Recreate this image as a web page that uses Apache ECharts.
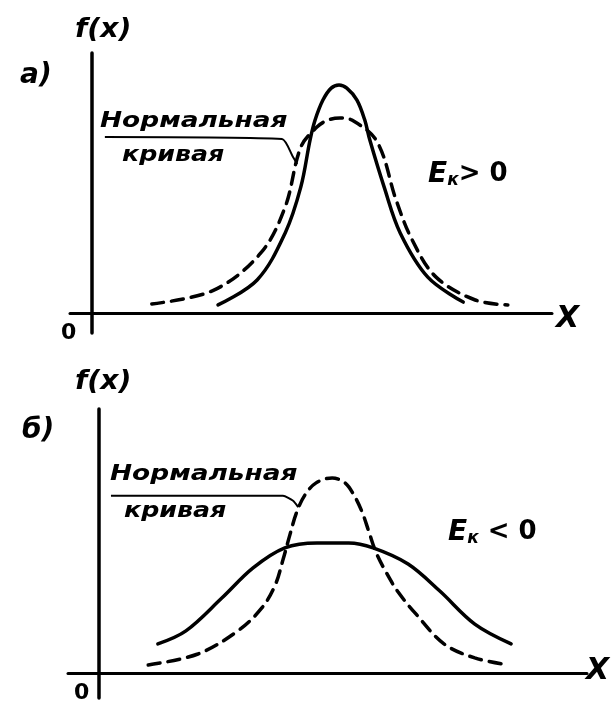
<!DOCTYPE html>
<html>
<head>
<meta charset="utf-8">
<script src="https://cdn.jsdelivr.net/npm/echarts@6/dist/echarts.min.js"></script>
<style>
html, body { margin: 0; padding: 0; background: #fff; }
#chart { width: 614px; height: 702px; }
</style>
</head>
<body>
<div id="chart"></div>
<script>
// curve points [x, f(x)] in chart units
var topPeaked = [[27.4, 3.1], [35.9, 12.7], [42.0, 30.8], [45.4, 48.5], [47.4, 66.5], [48.5, 74.2], [50.2, 81.9],
	[52.0, 86.5], [53.7, 87.7], [55.4, 86.5], [57.6, 81.9], [59.3, 74.2], [60.4, 66.5], [63.5, 48.5],
	[67.0, 30.8], [73.0, 13.8], [80.7, 4.2]];
var topNormal = [[13.0, 3.5], [26.5, 8.8], [36.7, 23.1], [42.0, 40.8], [45.4, 63.8], [48.9, 71.5], [51.3, 74.2],
	[53.9, 75.0], [56.5, 74.2], [62.0, 65.8], [66.1, 43.5], [69.6, 28.1], [74.8, 13.8], [83.3, 5.0], [90.4, 3.1]];
var bottomFlat = [[12.8, 11.2], [18.9, 16.2], [26.7, 28.8], [33.5, 40.4], [40.4, 48.1], [47.4, 50.0], [54.3, 50.0],
	[59.6, 48.1], [67.2, 41.9], [74.1, 31.5], [81.7, 18.8], [89.6, 11.2]];
var bottomNormal = [[10.7, 3.1], [21.5, 7.3], [30.2, 16.2], [35.4, 25.0], [38.3, 33.8], [40.0, 43.5], [41.5, 53.1],
	[43.0, 61.9], [44.8, 68.5], [47.2, 73.1], [50.7, 75.0], [53.5, 73.1], [55.4, 68.5], [57.2, 61.9], [58.7, 54.2],
	[60.2, 46.5], [62.4, 38.8], [65.0, 31.2], [68.9, 22.7], [75.0, 11.2], [81.7, 5.8], [88.9, 3.1]];
// leader lines from the label "Нормальная кривая" to the dashed curve
var topLeader = [[2.8, 67.7], [41.3, 66.9], [43.7, 60.0], [44.6, 57.3]];
var bottomLeader = [[2.6, 68.1], [40.0, 68.1], [42.2, 66.2], [43.3, 63.8]];

var ink = '#000';
var font = '"DejaVu Sans", sans-serif';

function axisX(gridIndex, min, max) {
	return {
		type : 'value',
		gridIndex : gridIndex,
		min : min,
		max : max,
		axisLine : { onZero : true, lineStyle : { color : ink, width : 3 } },
		axisTick : { show : false },
		axisLabel : { show : false },
		splitLine : { show : false }
	};
}
function axisY(gridIndex, min, max) {
	return {
		type : 'value',
		gridIndex : gridIndex,
		min : min,
		max : max,
		axisLine : { show : true, onZero : true, lineStyle : { color : ink, width : 3.5 } },
		axisTick : { show : false },
		axisLabel : { show : false },
		splitLine : { show : false }
	};
}
function curve(idx, data, dashed) {
	return {
		type : 'line',
		xAxisIndex : idx,
		yAxisIndex : idx,
		data : data,
		smooth : 0.35,
		showSymbol : false,
		symbol : 'none',
		silent : true,
		lineStyle : {
			color : ink,
			width : 3.5,
			cap : 'round',
			type : dashed ? [12, 8] : 'solid'
		}
	};
}
function leader(idx, data) {
	return {
		type : 'line',
		xAxisIndex : idx,
		yAxisIndex : idx,
		data : data,
		smooth : 0.2,
		symbol : 'none',
		silent : true,
		lineStyle : { color : ink, width : 2 }
	};
}
function label(x, y, text, size, sx) {
	return {
		type : 'text',
		x : x,
		y : y,
		scaleX : sx || 1,
		style : {
			text : text,
			fill : ink,
			font : 'italic bold ' + size + 'px ' + font
		}
	};
}
function plain(x, y, text, size) {
	return {
		type : 'text',
		x : x,
		y : y,
		style : { text : text, fill : ink, font : 'bold ' + size + 'px ' + font }
	};
}
function kurtosis(x, y, tail) {
	return {
		type : 'text',
		x : x,
		y : y,
		style : {
			fill : ink,
			rich : {
				e : { font : 'italic bold 28px ' + font },
				k : { font : 'italic bold 17px ' + font, padding : [12, 0, 0, 0] },
				o : { font : 'bold 26px ' + font }
			},
			text : '{e|E}{k|к}{o|' + tail + '}'
		}
	};
}

var option = {
	animation : false,
	backgroundColor : '#fff',
	grid : [
		{ left : 70, right : 62, top : 53, bottom : 369 },
		{ left : 68, right : 27, top : 409, bottom : 4 }
	],
	xAxis : [ axisX(0, -4.78, 100), axisX(1, -6.74, 106.1) ],
	yAxis : [ axisY(0, -7.69, 100), axisY(1, -9.62, 101.5) ],
	series : [
		curve(0, topPeaked, false),
		curve(0, topNormal, true),
		leader(0, topLeader),
		curve(1, bottomFlat, false),
		curve(1, bottomNormal, true),
		leader(1, bottomLeader)
	],
	graphic : [
		label(75, 16, 'f(x)', 27, 1.05),
		label(20, 62, 'а)', 28),
		label(100, 110, 'Нормальная', 22, 1.2),
		label(122, 144, 'кривая', 22, 1.15),
		kurtosis(428, 160, '> 0'),
		label(556, 304, 'X', 30),
		plain(61, 322, '0', 22),

		label(75, 368, 'f(x)', 27, 1.05),
		label(22, 417, 'б)', 28),
		label(110, 463, 'Нормальная', 22, 1.2),
		label(124, 500, 'кривая', 22, 1.15),
		kurtosis(448, 518, ' < 0'),
		label(586, 656, 'X', 30),
		plain(74, 682, '0', 22)
	]
};

var chart = echarts.init(document.getElementById('chart'));
chart.setOption(option);
</script>
</body>
</html>
